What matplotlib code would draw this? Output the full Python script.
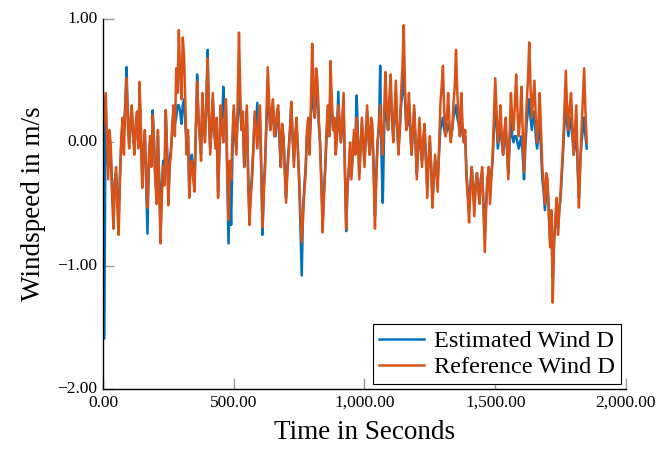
import numpy as np
import matplotlib
matplotlib.use("Agg")
import matplotlib.pyplot as plt
import matplotlib.transforms as mtransforms
from matplotlib.ticker import FuncFormatter

reference_wind = [
    0.10, 0.25, 0.40, 0.05, -0.30, 0.10, -0.05, -0.45, -0.70, -0.35,
    -0.20, -0.55, -0.75, -0.30, 0.05, 0.20, -0.10, 0.30, 0.52, 0.15,
    -0.05, 0.20, 0.30, 0.05, -0.10, 0.15, 0.25, -0.05, 0.49, 0.10,
    -0.37, -0.05, 0.10, -0.25, -0.53, -0.15, 0.05, -0.20, 0.22, 0.00,
    -0.30, -0.50, 0.10, -0.40, -0.82, -0.45, -0.20, -0.35, 0.26, -0.10,
    -0.51, -0.20, -0.10, 0.15, 0.30, 0.05, 0.60, 0.40, 0.91, 0.55,
    0.35, 0.85, 0.70, 0.30, -0.10, 0.10, -0.45, -0.20, -0.15, -0.30,
    -0.40, 0.10, 0.49, 0.20, 0.05, -0.15, 0.40, 0.15, 0.00, 0.30,
    0.68, 0.25, -0.10, 0.15, 0.40, 0.10, -0.05, 0.20, -0.45, -0.10,
    0.30, 0.10, 0.00, 0.20, 0.35, -0.20, -0.63, -0.15, -0.30, 0.05,
    0.30, 0.10, -0.10, 0.35, 0.89, 0.40, 0.10, 0.25, -0.20, 0.05,
    0.30, -0.30, -0.67, -0.45, -0.30, -0.05, 0.25, 0.10, -0.05, 0.15,
    0.30, -0.20, -0.69, -0.40, -0.20, 0.20, 0.61, 0.35, 0.10, 0.25,
    0.35, 0.05, 0.10, 0.25, 0.30, 0.05, -0.20, 0.15, 0.05, -0.25,
    -0.49, -0.25, -0.10, 0.10, 0.33, 0.05, -0.20, 0.05, 0.20, -0.05,
    -0.30, -0.55, -0.81, -0.60, -0.40, -0.25, 0.10, 0.20, -0.10, 0.30,
    0.80, 0.45, 0.20, 0.60, 0.50, 0.20, 0.00, -0.35, -0.73, -0.45,
    -0.20, 0.10, 0.30, 0.05, 0.66, 0.35, 0.10, 0.20, -0.10, 0.05,
    0.30, 0.15, 0.00, 0.20, 0.40, -0.20, -0.70, -0.35, -0.20, 0.00,
    -0.30, -0.10, 0.10, -0.10, 0.20, 0.00, -0.30, -0.05, 0.20, 0.00,
    -0.20, 0.05, 0.30, 0.05, -0.10, 0.20, 0.15, -0.25, -0.70, -0.30,
    0.00, 0.15, 0.30, 0.05, -0.10, 0.25, 0.57, 0.30, 0.10, 0.35,
    0.55, 0.20, 0.00, 0.25, 0.50, 0.15, -0.10, 0.10, 0.40, 0.60,
    0.95, 0.45, 0.10, 0.20, 0.40, 0.15, -0.10, 0.10, 0.30, 0.05,
    -0.30, -0.05, 0.20, 0.00, -0.20, 0.05, 0.15, -0.15, -0.45, -0.15,
    0.05, -0.20, -0.53, -0.30, -0.10, -0.25, -0.40, -0.05, 0.30, 0.45,
    0.62, 0.25, 0.05, 0.20, 0.40, 0.15, 0.00, 0.10, 0.30, 0.45,
    0.75, 0.40, 0.20, 0.05, 0.40, 0.15, 0.00, 0.10, -0.30, -0.45,
    -0.65, -0.35, -0.20, -0.40, -0.60, -0.35, -0.25, -0.40, -0.50, -0.30,
    -0.20, -0.55, -0.89, -0.55, -0.30, -0.20, -0.50, -0.30, -0.10, 0.20,
    0.52, 0.25, 0.00, 0.10, 0.30, 0.05, -0.10, 0.10, 0.20, -0.05,
    -0.30, 0.05, 0.40, 0.20, 0.10, 0.30, 0.55, 0.25, 0.05, 0.20,
    0.45, 0.10, -0.24, 0.05, 0.30, 0.50, 0.81, 0.45, 0.20, 0.35,
    0.50, 0.20, 0.00, 0.15, 0.40, 0.10, -0.20, -0.35, -0.50, -0.25,
    -0.30, -0.60, -0.85, -0.55, -1.30, -0.80, -0.60, -0.45, -0.75, -0.55,
    -0.40, -0.20, 0.00, 0.30, 0.58, 0.25, 0.10, 0.30, 0.40, 0.15,
    -0.10, 0.10, 0.30, -0.15, -0.53, -0.20, 0.10, 0.35, 0.60, 0.25,
    0.00,
]

estimated_wind = [
    0.30, -1.59, 0.35, -0.10, -0.20, 0.05, -0.10, -0.40, -0.55, -0.30,
    -0.25, -0.45, -0.60, -0.25, 0.00, 0.15, 0.10, 0.30, 0.61, 0.20,
    0.00, 0.15, 0.25, 0.05, -0.05, 0.10, 0.20, 0.00, 0.40, 0.05,
    -0.30, -0.05, 0.05, -0.35, -0.74, -0.20, 0.00, -0.15, 0.26, 0.00,
    -0.30, -0.40, 0.05, -0.30, -0.70, -0.35, -0.15, -0.30, 0.26, -0.05,
    -0.45, -0.15, -0.05, 0.10, 0.25, 0.15, 0.20, 0.30, 0.30, 0.25,
    0.15, 0.30, 0.35, 0.15, -0.05, 0.05, -0.40, -0.15, -0.10, -0.25,
    -0.35, 0.10, 0.55, 0.20, 0.05, -0.10, 0.35, 0.10, 0.05, 0.30,
    0.75, 0.20, -0.05, 0.10, 0.35, 0.10, 0.00, 0.15, -0.40, -0.05,
    0.25, 0.10, 0.45, 0.20, 0.30, -0.25, -0.82, -0.30, -0.67, -0.10,
    0.25, 0.05, -0.05, 0.20, 0.40, 0.25, 0.10, 0.15, -0.20, 0.00,
    0.25, -0.25, -0.60, -0.40, -0.25, -0.05, 0.20, 0.10, 0.32, 0.10,
    0.25, -0.20, -0.75, -0.35, -0.15, 0.15, 0.45, 0.25, 0.10, 0.20,
    0.30, 0.05, 0.05, 0.20, 0.25, 0.00, -0.20, 0.10, 0.05, -0.20,
    -0.45, -0.20, -0.05, 0.10, 0.30, 0.05, -0.15, 0.05, 0.15, -0.05,
    -0.30, -0.70, -1.08, -0.55, -0.35, -0.20, 0.05, 0.15, 0.00, 0.20,
    0.45, 0.30, 0.20, 0.40, 0.45, 0.15, 0.00, -0.30, -0.65, -0.40,
    -0.20, 0.05, 0.25, 0.05, 0.45, 0.25, 0.10, 0.15, -0.05, 0.10,
    0.41, 0.10, 0.00, 0.15, 0.30, -0.20, -0.72, -0.35, -0.25, -0.05,
    -0.25, -0.10, 0.05, 0.00, 0.38, 0.05, -0.25, -0.05, 0.15, 0.00,
    -0.15, 0.05, 0.25, 0.05, -0.10, 0.10, 0.10, -0.20, -0.60, -0.25,
    0.00, 0.10, 0.62, -0.10, -0.49, 0.10, 0.40, 0.20, 0.10, 0.30,
    0.45, 0.20, 0.05, 0.20, 0.40, 0.10, -0.05, 0.10, 0.30, 0.40,
    0.55, 0.35, 0.10, 0.15, 0.30, 0.10, -0.10, 0.10, 0.25, 0.00,
    -0.25, -0.05, 0.10, -0.05, -0.15, 0.00, 0.10, -0.15, -0.35, -0.15,
    0.00, -0.20, -0.45, -0.30, -0.15, -0.25, -0.30, -0.10, 0.10, 0.15,
    0.20, 0.10, 0.05, 0.10, 0.15, 0.10, 0.05, 0.10, 0.20, 0.25,
    0.30, 0.20, 0.15, 0.05, 0.20, 0.10, 0.00, 0.05, -0.25, -0.40,
    -0.55, -0.35, -0.20, -0.35, -0.50, -0.35, -0.25, -0.35, -0.45, -0.30,
    -0.25, -0.50, -0.75, -0.50, -0.30, -0.25, -0.40, -0.25, -0.15, 0.10,
    0.30, 0.15, -0.05, 0.05, 0.15, 0.00, -0.10, 0.00, 0.10, -0.05,
    -0.25, 0.00, 0.20, 0.05, 0.00, 0.05, 0.05, 0.00, -0.05, 0.00,
    0.05, -0.10, -0.30, -0.05, 0.15, 0.25, 0.35, 0.20, 0.10, 0.20,
    0.25, 0.05, -0.05, 0.05, 0.20, -0.05, -0.30, -0.40, -0.55, -0.40,
    -0.35, -0.55, -0.80, -0.75, -1.10, -0.80, -0.65, -0.60, -0.70, -0.55,
    -0.45, -0.25, -0.05, 0.15, 0.30, 0.15, 0.05, 0.15, 0.20, 0.05,
    -0.10, 0.00, 0.10, -0.20, -0.45, -0.15, 0.00, 0.10, 0.20, 0.05,
    -0.05,
]

sample_step_s = 5
x_ticks = [0, 500, 1000, 1500, 2000]
y_ticks = [-2, -1, 0, 1]

t_ref = np.arange(len(reference_wind)) * sample_step_s
t_est = np.arange(len(estimated_wind)) * sample_step_s

plt.rcParams['font.family'] = ['Liberation Serif', 'DejaVu Serif']

fig = plt.figure(figsize=(6.68, 4.49), dpi=100)
ax = fig.add_axes([0.1542, 0.1336, 0.7829, 0.8241])

ax.plot(t_est, estimated_wind, color='#0072BD', lw=1.8, label='Estimated Wind D')
ax.plot(t_ref, reference_wind, color='#D95319', lw=1.8, label='Reference Wind D')

ax.set_xlim(0, 2000)
ax.set_ylim(-2, 1)
ax.set_xticks(x_ticks)
ax.set_yticks(y_ticks)
ax.xaxis.set_major_formatter(FuncFormatter(lambda v, p: f"{v:,.2f}"))
ax.yaxis.set_major_formatter(FuncFormatter(lambda v, p: f"{v:.2f}".replace('-', '\u2212')))

for s in ['top', 'right']:
    ax.spines[s].set_visible(False)
for s in ['left', 'bottom']:
    ax.spines[s].set_color('black')
    ax.spines[s].set_linewidth(1.0)

ax.tick_params(direction='in', length=8, width=1, color='#999999',
               labelsize=12.5)
ax.tick_params(axis='x', pad=4)
ax.tick_params(axis='y', pad=4)

# nudge y tick labels up slightly so the lowest one clears the x tick labels
offset = mtransforms.ScaledTranslation(0, 1.5 / 72, fig.dpi_scale_trans)
for lab in ax.get_yticklabels():
    lab.set_transform(lab.get_transform() + offset)

ax.set_xlabel('Time in Seconds', fontsize=19.5, labelpad=7)
ax.set_ylabel('Windspeed in m/s', fontsize=19.5, labelpad=8)

leg = ax.legend(loc='lower right', fontsize=17.5, frameon=True, fancybox=False,
                edgecolor='black', framealpha=1, handlelength=1.85,
                borderaxespad=0.2, borderpad=0.25, labelspacing=0.15,
                handletextpad=0.4)
leg.get_frame().set_linewidth(0.8)

fig.savefig('out.png', dpi=100)
